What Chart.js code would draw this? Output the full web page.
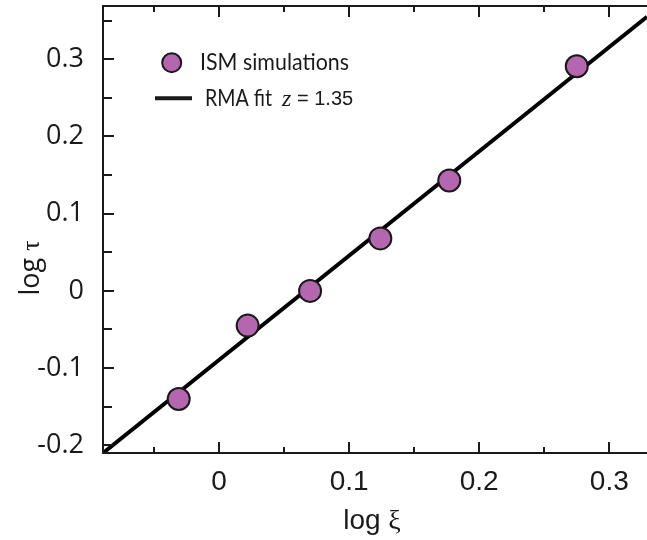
<!DOCTYPE html>
<html>
<head>
<meta charset="utf-8">
<script src="https://cdn.jsdelivr.net/npm/chart.js@4.4.0/dist/chart.umd.min.js"></script>
<style>
  html, body { margin: 0; padding: 0; background: #fff; overflow: hidden; }
  #wrap { width: 647px; height: 540px; }
</style>
</head>
<body>
<div id="wrap"><canvas id="chart"></canvas></div>
<script>
// ISM simulation points (log xi, log tau)
const simX = [-0.031, 0.022, 0.070, 0.124, 0.177, 0.275];
const simY = [-0.140, -0.045, 0.000, 0.068, 0.143, 0.291];

// RMA fit, slope z = 1.35, drawn across the whole x range
const fitX = [-0.0892, 0.329];
const fitY = [-0.210, 0.355];

const xRange = [-0.0892, 0.329];
const yRange = [-0.210, 0.369];
const xMajor = [0, 0.1, 0.2, 0.3];
const xMinor = [-0.05, 0.05, 0.15, 0.25];
const yMajor = [-0.2, -0.1, 0, 0.1, 0.2, 0.3];
const yMinor = [-0.15, -0.05, 0.05, 0.15, 0.25, 0.35];

const INK = "#1a1a1a";
const PURPLE = "#b466ae";

// open box (no right spine) with inward ticks
const frame = {
  id: "frame",
  afterDatasetsDraw(chart) {
    const { ctx, chartArea: a, scales: { x, y } } = chart;
    ctx.save();
    ctx.strokeStyle = INK;
    ctx.lineWidth = 2;
    ctx.beginPath();
    ctx.moveTo(a.right, a.top);
    ctx.lineTo(a.left, a.top);
    ctx.lineTo(a.left, a.bottom);
    ctx.lineTo(a.right, a.bottom);
    const xTick = (v, len) => {
      const px = Math.round(x.getPixelForValue(v));
      ctx.moveTo(px, a.bottom);
      ctx.lineTo(px, a.bottom - len);
      ctx.moveTo(px, a.top);
      ctx.lineTo(px, a.top + len);
    };
    const yTick = (v, len) => {
      const py = Math.round(y.getPixelForValue(v));
      ctx.moveTo(a.left, py);
      ctx.lineTo(a.left + len, py);
    };
    xMajor.forEach(v => xTick(v, 11));
    xMinor.forEach(v => xTick(v, 6));
    yMajor.forEach(v => yTick(v, 11));
    yMinor.forEach(v => yTick(v, 9));
    ctx.stroke();
    ctx.restore();
  }
};

// axis titles and legend, mixed fonts
const annotate = {
  id: "annotate",
  afterDraw(chart) {
    const { ctx } = chart;
    ctx.save();
    ctx.fillStyle = INK;
    ctx.textBaseline = "alphabetic";

    // x title: log ξ
    const xa = "28px 'Liberation Sans'";
    const xb = "28px 'Liberation Serif'";
    ctx.font = xa; const w1 = ctx.measureText("log ").width;
    ctx.font = xb; const w2 = ctx.measureText("ξ").width;
    let sx = 372 - (w1 + w2) / 2;
    ctx.font = xa; ctx.fillText("log ", sx, 529);
    ctx.font = xb; ctx.fillText("ξ", sx + w1, 529);

    // y title: log τ
    ctx.translate(39, 268);
    ctx.rotate(-Math.PI / 2);
    const ya = "27px 'Open Sans'";
    const yb = "26px 'Liberation Serif'";
    ctx.font = ya; const v1 = ctx.measureText("log ").width;
    ctx.font = yb; const v2 = ctx.measureText("τ").width;
    let sy = -(v1 + v2) / 2;
    ctx.font = ya; ctx.fillText("log ", sy, 0);
    ctx.font = yb; ctx.fillText("τ", sy + v1, 0);
    ctx.setTransform(1, 0, 0, 1, 0, 0);

    // legend
    ctx.beginPath();
    ctx.arc(171.7, 62.7, 9.5, 0, Math.PI * 2);
    ctx.fillStyle = PURPLE;
    ctx.fill();
    ctx.lineWidth = 2;
    ctx.strokeStyle = INK;
    ctx.stroke();

    ctx.beginPath();
    ctx.moveTo(155, 98.3);
    ctx.lineTo(192, 98.3);
    ctx.lineWidth = 4;
    ctx.stroke();

    ctx.fillStyle = INK;
    ctx.textBaseline = "middle";
    ctx.font = "24px Lato";
    ctx.fillText("ISM simulations", 200, 62.7, 149);
    ctx.fillText("RMA fit", 205, 98.3, 67);
    ctx.font = "italic 24px 'Liberation Serif'";
    ctx.fillText("z", 282, 100);
    ctx.font = "20px 'Liberation Sans'";
    ctx.fillText("= 1.35", 297, 99);
    ctx.restore();
  }
};

// keep the plot box flush with the canvas edges: no room reserved
// for tick labels hanging past the ends of an axis
function zeroPadding() {
  this.paddingTop = 0;
  this.paddingBottom = 0;
  this.paddingLeft = 0;
  this.paddingRight = 0;
}

new Chart(document.getElementById("chart"), {
  type: "scatter",
  data: {
    datasets: [
      {
        label: "ISM simulations",
        data: simX.map((v, i) => ({ x: v, y: simY[i] })),
        pointRadius: 11,
        pointHoverRadius: 11,
        pointBackgroundColor: PURPLE,
        pointBorderColor: INK,
        pointBorderWidth: 2,
        order: 1,
      },
      {
        label: "RMA fit",
        data: fitX.map((v, i) => ({ x: v, y: fitY[i] })),
        showLine: true,
        pointRadius: 0,
        borderColor: "#000",
        borderWidth: 4,
        order: 2,
      },
    ],
  },
  options: {
    responsive: true,
    maintainAspectRatio: false,
    animation: false,
    layout: { autoPadding: false, padding: { top: 6, right: 0, left: 0, bottom: 0 } },
    plugins: {
      legend: { display: false },
      tooltip: { enabled: false },
    },
    scales: {
      x: {
        type: "linear",
        min: xRange[0],
        max: xRange[1],
        grid: { display: false },
        border: { display: false },
        beforeFit: (s) => { s._calculatePadding = zeroPadding; },
        afterBuildTicks: (s) => { s.ticks = xMajor.map(v => ({ value: v })); },
        afterFit: (s) => { s.height = 87; },
        ticks: {
          padding: 4,
          color: INK,
          font: { family: "Liberation Sans", size: 28 },
          callback: (v) => String(v),
        },
      },
      y: {
        type: "linear",
        min: yRange[0],
        max: yRange[1],
        grid: { display: false },
        border: { display: false },
        beforeFit: (s) => { s._calculatePadding = zeroPadding; },
        afterBuildTicks: (s) => { s.ticks = yMajor.map(v => ({ value: v })); },
        afterFit: (s) => { s.width = 103; },
        ticks: {
          padding: 11,
          color: INK,
          font: { family: "Open Sans", size: 27 },
          callback: (v) => String(v),
        },
      },
    },
  },
  plugins: [frame, annotate],
});
</script>
</body>
</html>
